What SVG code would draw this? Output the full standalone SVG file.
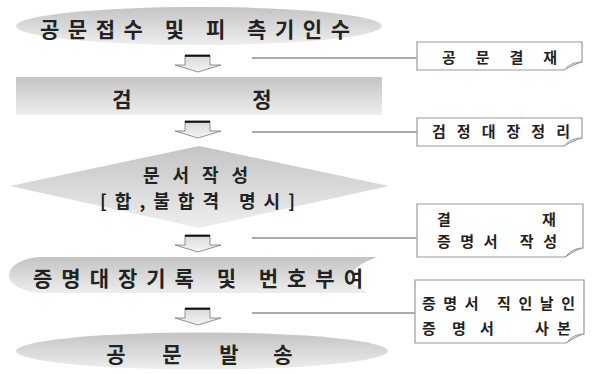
<svg xmlns="http://www.w3.org/2000/svg" width="593" height="374" viewBox="0 0 593 374">
<defs>
<linearGradient id="g" x1="0" y1="0" x2="0" y2="1">
<stop offset="0" stop-color="#c4c4c4"/>
<stop offset="1" stop-color="#eeeeee"/>
</linearGradient>
<linearGradient id="ga" x1="0" y1="0" x2="0" y2="1">
<stop offset="0" stop-color="#d8d8d8"/>
<stop offset="1" stop-color="#f4f4f4"/>
</linearGradient>
<symbol id="arr" overflow="visible">
<path d="M10,0 H35 V10 H46 L23,17 L0,10 H10 Z" fill="url(#ga)" stroke="#777" stroke-width="0.8"/>
<path d="M10,0.8 H35" stroke="#111" stroke-width="2"/>
</symbol>
</defs>
<style>
.t{font-family:"Noto Sans CJK KR","Noto Sans",sans-serif;font-weight:bold;fill:#222;}
.m{font-size:21px;}
.d{font-size:18px;}
.s{font-size:15px;}
.box{fill:#fff;stroke:#999;stroke-width:1.2;}
.fold{fill:none;stroke:#999;stroke-width:1;}
.ln{stroke:#aaa;stroke-width:2;fill:none;}
</style>

<g id="n1">
<ellipse cx="199" cy="26" rx="183" ry="19" fill="url(#g)"/>
<text class="t m" x="40" y="37" textLength="310" lengthAdjust="spacing">공문접수 및 피 측기인수</text>
</g>

<g id="n2">
<rect x="16" y="77" width="366" height="38" fill="url(#g)"/>
<text class="t m" x="122" y="107" text-anchor="middle">검</text>
<text class="t m" x="262" y="107" text-anchor="middle">정</text>
</g>

<g id="n3">
<polygon points="10,186 199,146 389,186 199,228" fill="url(#g)"/>
<text class="t d" x="143" y="182" textLength="105" lengthAdjust="spacing">문서작성</text>
<text class="t d" x="100" y="208" textLength="195" lengthAdjust="spacing">[합,불합격 명시]</text>
</g>

<g id="n4">
<path d="M377,257 H43 A34,18 0 0 0 43,293 H368 Q330,275 377,257 Z" fill="url(#g)"/>
<text class="t m" x="33" y="286" textLength="330" lengthAdjust="spacing">증명대장기록 및 번호부여</text>
</g>

<g id="n5">
<ellipse cx="202" cy="351" rx="186" ry="18.5" fill="url(#g)"/>
<text class="t m" x="116" y="362" text-anchor="middle">공</text>
<text class="t m" x="172" y="362" text-anchor="middle">문</text>
<text class="t m" x="229" y="362" text-anchor="middle">발</text>
<text class="t m" x="283" y="362" text-anchor="middle">송</text>
</g>

<g id="c1">
<path class="box" d="M417,42 H582 V62 Q574,64 564,70 H417 Z"/>
<path class="fold" d="M582,62 Q572,62 566,68"/>
<text class="t s" x="442" y="63" textLength="115" lengthAdjust="spacing">공 문 결 재</text>
</g>

<g id="c2">
<path class="box" d="M417,118 H582 V138 Q574,140 564,146 H417 Z"/>
<path class="fold" d="M582,138 Q572,138 566,144"/>
<text class="t s" x="432" y="137" textLength="138" lengthAdjust="spacing">검정대장정리</text>
</g>

<g id="c3">
<path class="box" d="M417,204 H583 V248 Q575,250 565,257 H417 Z"/>
<path class="fold" d="M583,248 Q573,248 567,255"/>
<text class="t s" x="437" y="225">결</text>
<text class="t s" x="542" y="225">재</text>
<text class="t s" x="437" y="247" textLength="120" lengthAdjust="spacing">증명서 작성</text>
</g>

<g id="c4">
<path class="box" d="M415,280 H584 V334 Q576,336 566,343 H415 Z"/>
<path class="fold" d="M584,334 Q574,334 568,341"/>
<text class="t s" x="422" y="309" textLength="153" lengthAdjust="spacing">증명서 직인날인</text>
<text class="t s" x="422" y="334">증</text>
<text class="t s" x="452" y="334">명</text>
<text class="t s" x="480" y="334">서</text>
<text class="t s" x="535" y="334">사</text>
<text class="t s" x="557" y="334">본</text>
</g>

<g id="connectors">
<use href="#arr" x="175" y="55"/>
<use href="#arr" x="175" y="121"/>
<use href="#arr" x="175" y="235"/>
<use href="#arr" x="175" y="308"/>
<path class="ln" d="M252,58 H417"/>
<path class="ln" d="M252,132 H417"/>
<path class="ln" d="M252,238 H417"/>
<path class="ln" d="M252,313 H415"/>
</g>
</svg>
